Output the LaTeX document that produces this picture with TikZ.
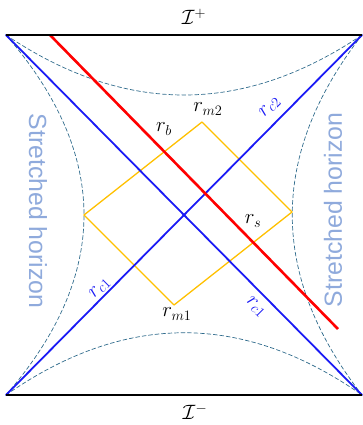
\documentclass[tikz,border=0pt]{standalone}
\usepackage{amsmath,amssymb}
\usepackage{fontspec}
\newfontfamily\horizonfont{Liberation Sans}
\usepackage{tikz}
\usetikzlibrary{positioning}
\definecolor{pdNull}{HTML}{1A1AF5}
\definecolor{pdShock}{HTML}{FF0000}
\definecolor{pdDiamond}{HTML}{FFC000}
\definecolor{pdStretch}{HTML}{2F6B8C}
\definecolor{pdHorizon}{HTML}{8FAADC}
\tikzset{
  pd diagram/.style={x=1pt, y=-1pt, line cap=round, line join=round,
    font=\huge},
  pd infinity/.style={draw=black, line width=1.6pt, line cap=butt},
  pd null/.style={draw=pdNull, line width=1.8pt},
  pd shock/.style={draw=pdShock, line width=2.6pt, line cap=butt},
  pd diamond/.style={draw=pdDiamond, line width=1.3pt},
  pd stretched/.style={draw=pdStretch, line width=0.7pt,
    dash pattern=on 4pt off 2.5pt},
  pd horizon/.style={font=\horizonfont\fontsize{24.8}{28}\selectfont,
    text=pdHorizon, inner sep=0pt},
  pd label/.style={inner sep=1pt},
  pd blue label/.style={pd label, text=pdNull}
}
\begin{document}
\begin{tikzpicture}[pd diagram]
\useasboundingbox (0,0) rectangle (363,425);
% corners and end points
\coordinate (tl) at (6,35);
\coordinate (tr) at (362,35);
\coordinate (bl) at (6,395);
\coordinate (br) at (362,395);
\coordinate (shock top) at (50,35);
\coordinate (shock end) at (338,329);
\coordinate (m2) at (202,122);
\coordinate (dr) at (292,212);
\coordinate (m1) at (174,305);
\coordinate (dl) at (84,215);
% stretched horizons
\draw[pd stretched] (tl) .. controls (125,115) and (243,115) .. (tr);
\draw[pd stretched] (bl) .. controls (125,312) and (243,312) .. (br);
\draw[pd stretched] (tl) .. controls (110,155) and (110,275) .. (bl);
\draw[pd stretched] (tr) .. controls (269,155) and (269,275) .. (br);
% causal diamond
\draw[pd diamond] (m2) -- (dr) -- (m1) -- (dl) -- cycle;
% null rays and shock
\draw[pd null] (tl) -- (br);
\draw[pd null] (bl) -- (tr);
\draw[pd shock] (shock top) -- (shock end);
\draw[pd infinity] (tl) -- (tr);
\draw[pd infinity] (bl) -- (br);
% labels
\node[pd label] (scri plus) at (194,17) {$\mathcal{I}^+$};
\node[pd label] (scri minus) at (195,412) {$\mathcal{I}^-$};
\node[pd label] (rm2) at (208,109) {$r_{m2}$};
\node[pd label] (rb) at (164,129) {$r_b$};
\node[pd label] (rs) at (253,221) {$r_s$};
\node[pd label] (rm1) at (177,314) {$r_{m1}$};
\node[pd blue label,rotate=45] (rc2) at (270,107) {$r_{c2}$};
\node[pd blue label,rotate=45] (rc1 left) at (100,288) {$r_{c1}$};
\node[pd blue label,rotate=-45] (rc1 right) at (256,307) {$r_{c1}$};
\node[pd horizon,rotate=-90] (horizon left) at (38,211) {Stretched horizon};
\node[pd horizon,rotate=90] (horizon right) at (333,210) {Stretched horizon};
\end{tikzpicture}
\end{document}
